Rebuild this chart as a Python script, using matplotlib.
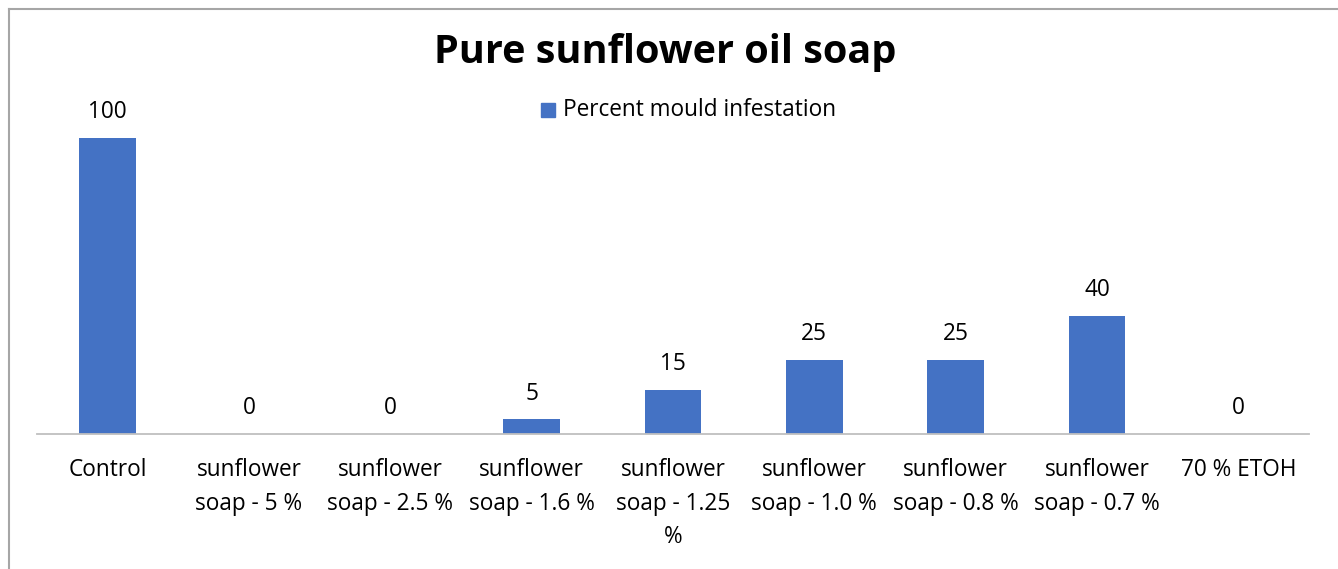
import matplotlib
matplotlib.use("Agg")
import matplotlib.pyplot as plt
from matplotlib.patches import Rectangle

categories = ["Control", "sunflower\nsoap - 5 %", "sunflower\nsoap - 2.5 %",
              "sunflower\nsoap - 1.6 %", "sunflower\nsoap - 1.25\n%",
              "sunflower\nsoap - 1.0 %", "sunflower\nsoap - 0.8 %",
              "sunflower\nsoap - 0.7 %", "70 % ETOH"]
values = [100, 0, 0, 5, 15, 25, 25, 40, 0]
series_name = "Percent mould infestation"
title = "Pure sunflower oil soap"

W, H = 1338, 569
fig = plt.figure(figsize=(W / 100, H / 100), dpi=100)
plt.rcParams['font.family'] = ['Open Sans', 'DejaVu Sans']
FS = 16.3

# outer chart border (cropped: only top and left visible)
fig.add_artist(plt.Line2D([8.5 / W, 8.5 / W], [0, 1 - 8.5 / H], transform=fig.transFigure,
                          color="#a6a6a6", lw=1.5))
fig.add_artist(plt.Line2D([8.5 / W, 1], [1 - 8.5 / H, 1 - 8.5 / H], transform=fig.transFigure,
                          color="#a6a6a6", lw=1.5))

ax = fig.add_axes([37 / W, (H - 434) / H, (1309 - 37) / W, (434 - 138) / H])
x = list(range(len(categories)))
ax.bar(x, values, width=0.40, color="#4472C4")
ax.set_xlim(-0.5, len(categories) - 0.5)
ax.set_ylim(0, 100)
for s in ["top", "right", "left"]:
    ax.spines[s].set_visible(False)
ax.spines["bottom"].set_color("#bfbfbf")
ax.spines["bottom"].set_linewidth(1.3)
ax.set_yticks([])
ax.set_xticks(x)
ax.set_xticklabels(categories, fontsize=FS, color="#000000", linespacing=1.55)
ax.tick_params(axis="x", length=0, pad=17)
for xi, v in zip(x, values):
    ax.annotate(str(v), (xi, v), xytext=(0, 18.5), textcoords="offset points",
                ha="center", va="center", fontsize=FS, color="#000000",
                annotation_clip=False)

fig.text(665 / W, 1 - 53 / H, title, ha="center", va="center",
         fontsize=28.5, fontweight="bold", color="#000000")
fig.add_artist(Rectangle((541 / W, 1 - 117 / H), 14 / W, 14 / H,
                         transform=fig.transFigure, color="#4472C4"))
fig.text(563 / W, 1 - 110 / H, series_name, ha="left", va="center",
         fontsize=FS, color="#000000")

fig.savefig("out.png", dpi=100)
